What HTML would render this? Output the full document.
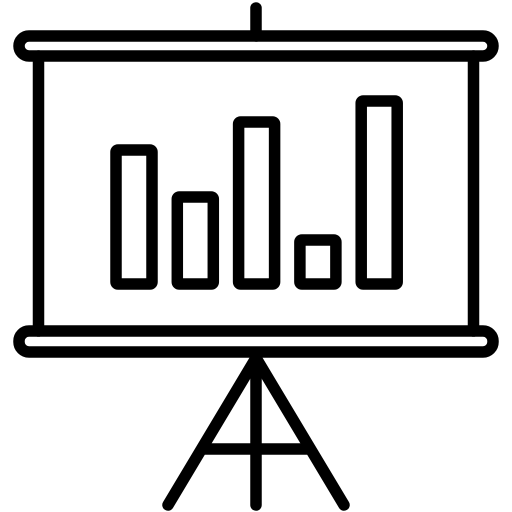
<!DOCTYPE html>
<html><head><meta charset="utf-8"><style>html,body{margin:0;padding:0;background:#fff}svg{display:block}</style></head>
<body>
<svg id="c" width="512" height="512" viewBox="0 0 512 512" fill="none" stroke="#000" stroke-width="11.5" stroke-linecap="round" stroke-linejoin="round">
<line x1="256" y1="8" x2="256" y2="36"/>
<rect x="19" y="36" width="474" height="20" rx="10"/>
<line x1="38.5" y1="56" x2="38.5" y2="331"/>
<line x1="473.5" y1="56" x2="473.5" y2="331"/>
<rect x="19" y="331" width="474" height="21" rx="10"/>
<line x1="256" y1="358" x2="256" y2="505"/>
<line x1="256" y1="358" x2="168" y2="505"/>
<line x1="256" y1="358" x2="344" y2="505"/>
<line x1="206" y1="449" x2="306" y2="449"/>
<g id="bars"></g>
</svg>
<script>
const categories = ["b1","b2","b3","b4","b5"];
const values = [134, 87, 162, 44, 183];
const baseY = 284, topY = 101, maxV = 183;
const x0 = 116, step = 61.3, bw = 36;
function yScale(v){ return baseY - (v / maxV) * (baseY - topY); }
function xScale(i){ return x0 + i * step; }
const g = document.getElementById('bars');
values.forEach((v,i)=>{
  const r = document.createElementNS('http://www.w3.org/2000/svg','rect');
  r.setAttribute('x', xScale(i));
  r.setAttribute('y', yScale(v));
  r.setAttribute('width', bw);
  r.setAttribute('height', baseY - yScale(v));
  r.setAttribute('rx', 2);
  
  
  g.appendChild(r);
});
</script>
</body></html>
